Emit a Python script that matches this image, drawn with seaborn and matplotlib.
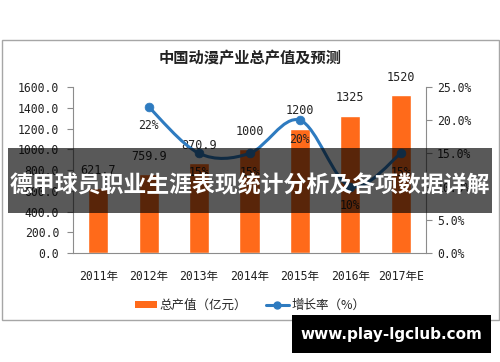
import numpy as np
import pandas as pd
import matplotlib
matplotlib.use('Agg')
import matplotlib.pyplot as plt
import seaborn as sns
from matplotlib.path import Path
from matplotlib.patches import PathPatch, Rectangle
from matplotlib.lines import Line2D

# data
years = ['2011年', '2012年', '2013年', '2014年', '2015年', '2016年', '2017年E']
output = [621.7, 759.9, 870.9, 1000, 1200, 1325, 1520]
output_labels = ['621.7', '759.9', '870.9', '1000', '1200', '1325', '1520']
growth_years = [1, 2, 3, 4, 5, 6]          # index into years (2011 has no rate)
growth = [22, 15, 15, 20, 10, 15]

orange = '#FF6A1A'
blue = '#2E7BC0'
grey = '#8C8C8C'

sns.set_style('white')
mono = ['DejaVu Sans Mono', 'Noto Sans CJK SC']
cjk = ['Noto Sans CJK SC', 'DejaVu Sans']
plt.rcParams['font.family'] = mono

fig = plt.figure(figsize=(5, 3.62), dpi=100)
ax = fig.add_axes([73 / 500, 1 - 253 / 362, 353 / 500, 166 / 362])

df = pd.DataFrame({'year': years, 'output': output})
sns.barplot(data=df, x='year', y='output', color=orange, saturation=1,
            width=0.4, ax=ax)
ax.set_xlim(-0.5, 6.5)
ax.set_ylim(0, 1600)
ax.set_xlabel('')
ax.set_ylabel('')
ax.set_yticks(np.arange(0, 1601, 200))
ax.set_yticklabels([f'{v:.1f}' for v in np.arange(0, 1601, 200)], fontsize=8.3, color='#222222')
ax.set_xticks(range(len(years)))
ax.set_xticklabels(years, fontsize=8.3, color='#222222')
ax.set_xticks(np.arange(-0.5, 7, 1), minor=True)
ax.tick_params(axis='x', which='major', length=0, pad=12)
ax.tick_params(axis='x', which='minor', length=5, color=grey, direction='out')
ax.tick_params(axis='y', length=4, color=grey, direction='out', pad=6, left=True)
for s in ['top', 'right']:
    ax.spines[s].set_visible(False)
for s in ['left', 'bottom']:
    ax.spines[s].set_color(grey)
    ax.spines[s].set_linewidth(0.8)

for i, (v, lab) in enumerate(zip(output, output_labels)):
    ax.annotate(lab, (i, v), xytext=(0, 8), textcoords='offset points',
                ha='center', va='bottom', fontsize=8.5, color='#222222')

ax2 = ax.twinx()
ax2.set_ylim(0, 25)
ax2.set_yticks(np.arange(0, 26, 5))
ax2.set_yticklabels([f'{v:.1f}%' for v in np.arange(0, 26, 5)], fontsize=8.3, color='#222222')
ax2.tick_params(axis='y', length=4, color=grey, direction='out', pad=4, right=True)
for s in ['top', 'left', 'bottom']:
    ax2.spines[s].set_visible(False)
ax2.spines['right'].set_color(grey)
ax2.spines['right'].set_linewidth(0.8)

# smoothed growth line (Catmull-Rom style bezier through the points)
px = np.array(growth_years, dtype=float)
py = np.array(growth, dtype=float)
verts = [(px[0], py[0])]
codes = [Path.MOVETO]
n = len(px)
for i in range(n - 1):
    p0 = np.array([px[max(i - 1, 0)], py[max(i - 1, 0)]])
    p1 = np.array([px[i], py[i]])
    p2 = np.array([px[i + 1], py[i + 1]])
    p3 = np.array([px[min(i + 2, n - 1)], py[min(i + 2, n - 1)]])
    c1 = p1 + (p2 - p0) / 6
    c2 = p2 - (p3 - p1) / 6
    verts += [tuple(c1), tuple(c2), tuple(p2)]
    codes += [Path.CURVE4] * 3
ax2.add_patch(PathPatch(Path(verts, codes), fill=False, ec=blue, lw=2.2, zorder=3))
sns.scatterplot(x=px, y=py, color=blue, s=40, edgecolor=blue, ax=ax2, zorder=4)
for x, v in zip(px, py):
    ax2.annotate(f'{int(v)}%', (x, v), xytext=(0, -9), textcoords='offset points',
                 ha='center', va='top', fontsize=8.3, color='#222222')
ax2.set_xlim(-0.5, 6.5)

fig.text(0.5, 1 - 58 / 362, '中国动漫产业总产值及预测', ha='center', va='center',
         fontsize=11, fontweight='bold', family=cjk, color='#222222')

handles = [Rectangle((0, 0), 1, 1, fc=orange, ec='none'),
           Line2D([], [], color=blue, lw=2.2, marker='o', markersize=5)]
fig.legend(handles, ['总产值（亿元）', '增长率（%）'], loc='center',
           bbox_to_anchor=(0.5, 1 - 305 / 362), ncol=2, frameon=False,
           prop={'family': cjk, 'size': 9}, handlelength=1.8, handleheight=0.5,
           columnspacing=1.5, handletextpad=0.2)

# outer frame
fig.patches.append(Rectangle((2 / 500, 1 - 320 / 362), 497 / 500, 280 / 362,
                             transform=fig.transFigure, fill=False,
                             ec='#A6A6A6', lw=1, zorder=1))

# banner overlay
fig.patches.append(Rectangle((8 / 500, 1 - 213 / 362), 484 / 500, 65 / 362,
                             transform=fig.transFigure, fc='black', alpha=0.65,
                             ec='none', zorder=10))
fig.text(0.5, 1 - 186 / 362, '德甲球员职业生涯表现统计分析及各项数据详解',
         ha='center', va='center', fontsize=16.5, fontweight='bold',
         family=cjk, color='white', zorder=11)

# url box
fig.patches.append(Rectangle((292 / 500, 1 - 353 / 362), 199 / 500, 38 / 362,
                             transform=fig.transFigure, fc='black', ec='none',
                             zorder=10))
fig.text(391 / 500, 1 - 334 / 362, 'www.play-lgclub.com', ha='center', va='center',
         fontsize=11, fontweight='bold', family=['DejaVu Sans'], color='white',
         zorder=11)

fig.savefig('out.png', dpi=100)
